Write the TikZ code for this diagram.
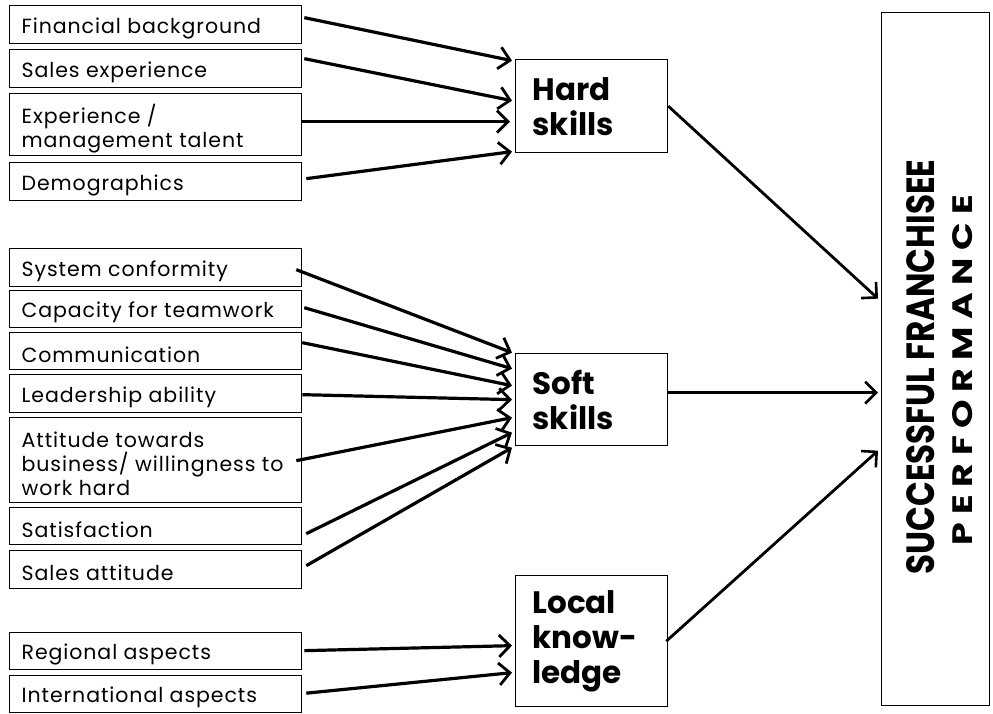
\documentclass[tikz,border=0pt]{standalone}
\usepackage{fontspec}
\setmainfont{Poppins}
\usetikzlibrary{arrows.meta,calc}

% box text, set a little lower than the geometric centre
\newcommand\intext[1]{\raisebox{-3.5pt}[\height][\depth]{\parbox{268pt}{\raggedright #1}}}

\begin{document}
\begin{tikzpicture}[x=1pt,y=-1pt,
  inbox/.style={draw,line width=1.3pt,anchor=north west,minimum width=292pt,
    inner xsep=12pt,inner ysep=0pt,
    font=\fontsize{20.5}{24}\selectfont\addfontfeatures{LetterSpace=4.5}},
  skillbox/.style={draw,line width=1.3pt,anchor=north west,text width=118pt,
    align=left,inner xsep=17pt,inner ysep=0pt,font=\bfseries\fontsize{31}{35}\selectfont},
  conn/.style={line width=3.2pt,-{Straight Barb[length=11pt,width=22pt,line width=2.8pt]}},
  outconn/.style={line width=2.8pt,-{Straight Barb[length=11pt,width=22pt,line width=2.6pt]}}]
\useasboundingbox (0,0) rectangle (993,713);

% hard skill inputs
\node[inbox,minimum height=38pt] (fin) at (9,5) {\intext{Financial background}};
\node[inbox,minimum height=38pt] (sal) at (9,49) {\intext{Sales experience}};
\node[inbox,minimum height=62pt] (exp) at (9,93) {\intext{Experience /\\management talent}};
\node[inbox,minimum height=38pt] (dem) at (9,162) {\intext{Demographics}};

% soft skill inputs
\node[inbox,minimum height=38pt] (sys) at (9,248) {\intext{System conformity}};
\node[inbox,minimum height=37pt] (cap) at (9,290) {\intext{Capacity for teamwork}};
\node[inbox,minimum height=37pt] (com) at (9,332) {\intext{Communication}};
\node[inbox,minimum height=38pt] (lea) at (9,374) {\intext{Leadership ability}};
\node[inbox,minimum height=85pt] (att) at (9,417) {\intext{Attitude towards\\business/ willingness to\\work hard}};
\node[inbox,minimum height=37pt] (sat) at (9,507) {\intext{Satisfaction}};
\node[inbox,minimum height=38pt] (sla) at (9,550) {\intext{Sales attitude}};

% local knowledge inputs
\node[inbox,minimum height=37pt] (reg) at (9,632) {\intext{Regional aspects}};
\node[inbox,minimum height=37pt] (int) at (9,675) {\intext{International aspects}};

% skill groups
\node[skillbox,minimum height=93pt] (hard) at (515,59) {Hard\\skills};
\node[skillbox,minimum height=92pt] (soft) at (515,353) {Soft\\skills};
\node[skillbox,minimum height=131pt] (loc) at (515,575) {Local\\know-\\ledge};

% outcome
\node[draw,line width=1.3pt,anchor=north west,minimum width=108pt,minimum height=693pt,inner sep=0pt] (perf) at (881,12) {};
\node[rotate=90,inner sep=0pt] (t1) at (921,367) {\resizebox{415pt}{28pt}{\bfseries SUCCESSFUL FRANCHISEE}};
\node[rotate=90,inner sep=0pt] (t2) at (963,370) {\resizebox{350pt}{20pt}{\bfseries P E R F O R M A N C E}};

% arrows into hard skills
\draw[conn] ($(fin.east)+(2,-7)$) -- ($(hard.west)+(-3,-45.5)$);
\draw[conn] ($(sal.east)+(2,-10)$) -- ($(hard.west)+(-3,-5.5)$);
\draw[conn] ($(exp.east)+(0,-3)$) -- ($(hard.west)+(-5,15.5)$);
\draw[conn] ($(dem.east)+(4,-3)$) -- ($(hard.west)+(-3,45.5)$);

% arrows into soft skills
\draw[conn] ($(sys.east)+(-6,2)$) -- ($(soft.west)+(-3,-47)$);
\draw[conn] ($(cap.east)+(2,-1.5)$) -- ($(soft.west)+(-3,-31)$);
\draw[conn] ($(com.east)+(0,-8.5)$) -- ($(soft.west)+(-3,-14)$);
\draw[conn] ($(lea.east)+(0,1)$) -- ($(soft.west)+(-3,0)$);
\draw[conn] ($(att.east)+(-6,0.5)$) -- ($(soft.west)+(-3,18)$);
\draw[conn] ($(sat.east)+(4,7.5)$) -- ($(soft.west)+(-3,33)$);
\draw[conn] ($(sla.east)+(4,-4)$) -- ($(soft.west)+(-3,48)$);

% arrows into local knowledge
\draw[conn] ($(reg.east)+(2,-0.5)$) -- ($(loc.west)+(-3,4.5)$);
\draw[conn] ($(int.east)+(4,-1)$) -- ($(loc.west)+(-3,31.5)$);

% arrows into the outcome
\draw[outconn] (hard.east) -- ($(perf.west)+(-3,-60.5)$);
\draw[outconn] ($(soft.east)+(0,-7)$) -- ($(perf.west)+(-3,33.5)$);
\draw[outconn] ($(loc.east)+(-2,0)$) -- ($(perf.west)+(-3,91.5)$);
\end{tikzpicture}
\end{document}
